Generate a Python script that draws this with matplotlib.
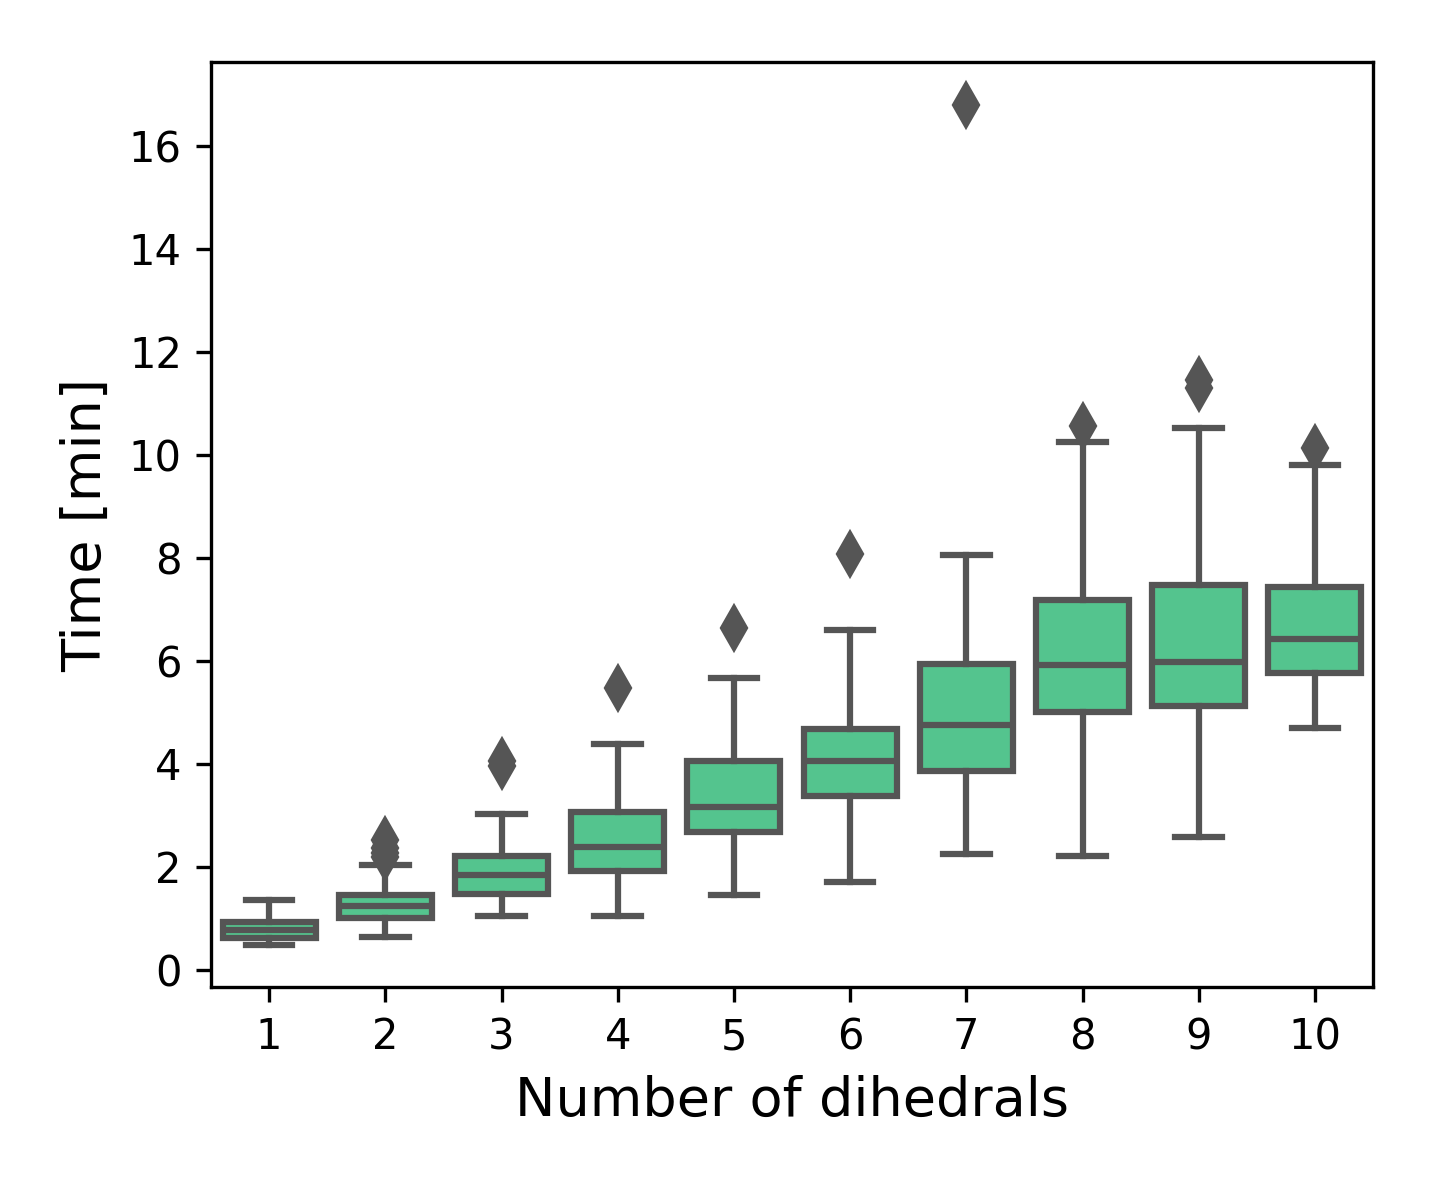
import matplotlib
matplotlib.use("Agg")
import matplotlib.pyplot as plt

categories = ["1", "2", "3", "4", "5", "6", "7", "8", "9", "10"]
whislo = [0.49, 0.65, 1.05, 1.04, 1.46, 1.70, 2.26, 2.22, 2.59, 4.70]
q1     = [0.62, 1.01, 1.48, 1.93, 2.68, 3.37, 3.87, 5.01, 5.13, 5.77]
med    = [0.78, 1.24, 1.84, 2.39, 3.17, 4.05, 4.76, 5.92, 5.98, 6.43]
q3     = [0.93, 1.46, 2.21, 3.07, 4.06, 4.68, 5.94, 7.18, 7.48, 7.44]
whishi = [1.35, 2.03, 3.02, 4.39, 5.66, 6.60, 8.05, 10.26, 10.53, 9.81]
fliers = [[], [2.19, 2.27, 2.37, 2.52], [3.97, 4.05], [5.48], [6.64], [8.08],
          [16.80], [10.57], [11.30, 11.46], [10.14]]

stats = []
for i, c in enumerate(categories):
    stats.append(dict(label=c, whislo=whislo[i], q1=q1[i], med=med[i],
                      q3=q3[i], whishi=whishi[i], fliers=fliers[i]))

edge = "#555555"
face = "#54c48e"
lw = 1.5

fig = plt.figure(figsize=(1436 / 300, 1187 / 300), dpi=300)
ax = fig.add_axes([211 / 1436, 200 / 1187, (1373 - 211) / 1436, (987 - 62) / 1187])
positions = list(range(1, len(categories) + 1))
ax.bxp(stats, positions=positions, widths=0.8, patch_artist=True,
       boxprops=dict(facecolor=face, edgecolor=edge, linewidth=lw),
       medianprops=dict(color=edge, linewidth=lw),
       whiskerprops=dict(color=edge, linewidth=lw),
       capprops=dict(color=edge, linewidth=lw),
       flierprops=dict(marker="d", markerfacecolor=edge, markeredgecolor=edge,
                       markersize=7, linestyle="none"),
       capwidths=0.4)
ax.set_xlim(0.5, 10.5)
ax.set_ylim(-0.33, 17.63)
ax.set_yticks([0, 2, 4, 6, 8, 10, 12, 14, 16])
ax.set_xticks(positions)
ax.set_xticklabels(categories)
ax.tick_params(labelsize=10)
ax.set_xlabel("Number of dihedrals", fontsize=13)
ax.set_ylabel("Time [min]", fontsize=13)
fig.savefig("out.png", dpi=300)
